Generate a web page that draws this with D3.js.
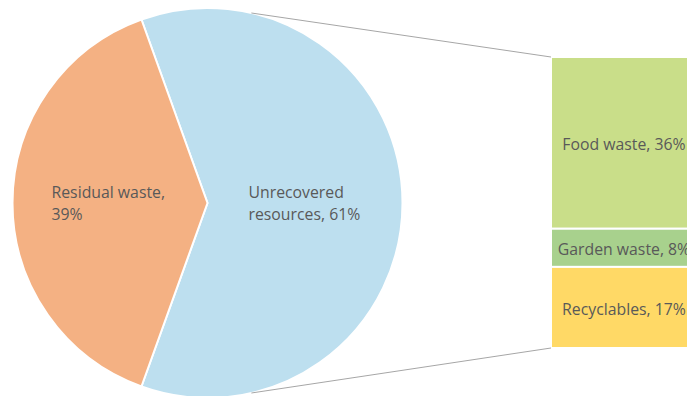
<!DOCTYPE html>
<html>
<head>
<meta charset="utf-8">
<script src="https://cdn.jsdelivr.net/npm/d3@7"></script>
<style>
  html, body { margin: 0; padding: 0; background: #fff; }
  svg { display: block; }
  text { font-family: "Open Sans", "Noto Sans", sans-serif; fill: #595959; }
</style>
</head>
<body>
<svg id="chart" width="687" height="396"></svg>
<script>
// Pie slices (share of total, %)
const pieCategories = ["Unrecovered resources", "Residual waste"];
const pieValues = [61, 39];
const pieColors = ["#BDDFEF", "#F4B183"];

// Breakdown of the unrecovered slice, stacked top to bottom
const barCategories = ["Food waste", "Garden waste", "Recyclables"];
const barValues = [36, 8, 17];
const barColors = ["#C9DE89", "#A8D18D", "#FFD966"];

const svg = d3.select("#chart");
const FS = 15.8;

// ---- pie ----
const cx = 207.5, cy = 203, R = 195;
const unrecoveredShare = pieValues[0] / d3.sum(pieValues);
const startA = Math.PI / 2 - unrecoveredShare * Math.PI; // center the unrecovered slice on the right
const pie = d3.pie().sort(null).value(d => d)
  .startAngle(startA).endAngle(startA + 2 * Math.PI);
const arcs = pie(pieValues);
const arc = d3.arc().innerRadius(0).outerRadius(R);

const g = svg.append("g").attr("transform", `translate(${cx},${cy})`);
g.selectAll("path").data(arcs).enter().append("path")
  .attr("d", arc)
  .attr("fill", (d, i) => pieColors[i])
  .attr("stroke", "#fff")
  .attr("stroke-width", 2)
  .attr("stroke-linejoin", "round");

// pie labels (two lines each)
const pieLabelLines = [
  ["Unrecovered", "resources, " + pieValues[0] + "%"],
  ["Residual waste,", pieValues[1] + "%"]
];
const pieLabelPos = [[41, -5], [-156, -5]];
arcs.forEach((d, i) => {
  const t = g.append("text")
    .attr("x", pieLabelPos[i][0])
    .attr("y", pieLabelPos[i][1])
    .attr("font-size", FS);
  pieLabelLines[i].forEach((line, j) => {
    t.append("tspan").attr("x", pieLabelPos[i][0]).attr("dy", j === 0 ? 0 : 22).text(line);
  });
});

// ---- stacked bar ----
const barX = 551, barW = 146;
const y = d3.scaleLinear().domain([0, d3.sum(barValues)]).range([57, 348]);
let acc = 0;
const stack = barValues.map((v, i) => {
  const s = { cat: barCategories[i], v, y0: acc, y1: acc + v, color: barColors[i] };
  acc += v;
  return s;
});

svg.selectAll("rect.bar").data(stack).enter().append("rect")
  .attr("class", "bar")
  .attr("x", barX)
  .attr("y", d => y(d.y0))
  .attr("width", barW)
  .attr("height", d => y(d.y1) - y(d.y0))
  .attr("fill", d => d.color)
  .attr("stroke", "#fff")
  .attr("stroke-width", 2);

svg.selectAll("text.barlabel").data(stack).enter().append("text")
  .attr("class", "barlabel")
  .attr("x", barX + barW / 2)
  .attr("y", d => (y(d.y0) + y(d.y1)) / 2 + 2)
  .attr("dy", "0.35em")
  .attr("text-anchor", "middle")
  .attr("font-size", FS)
  .text(d => `${d.cat}, ${d.v}%`);

// ---- connector lines from pie edge to bar corners ----
const conA = 13 * Math.PI / 180;
const topPt = [cx + R * Math.sin(conA), cy - R * Math.cos(conA)];
const botPt = [cx + R * Math.sin(Math.PI - conA), cy - R * Math.cos(Math.PI - conA)];
svg.append("line")
  .attr("x1", topPt[0]).attr("y1", topPt[1])
  .attr("x2", barX).attr("y2", y(0))
  .attr("stroke", "#A6A6A6").attr("stroke-width", 1);
svg.append("line")
  .attr("x1", botPt[0]).attr("y1", botPt[1])
  .attr("x2", barX).attr("y2", y(d3.sum(barValues)))
  .attr("stroke", "#A6A6A6").attr("stroke-width", 1);
</script>
</body>
</html>
